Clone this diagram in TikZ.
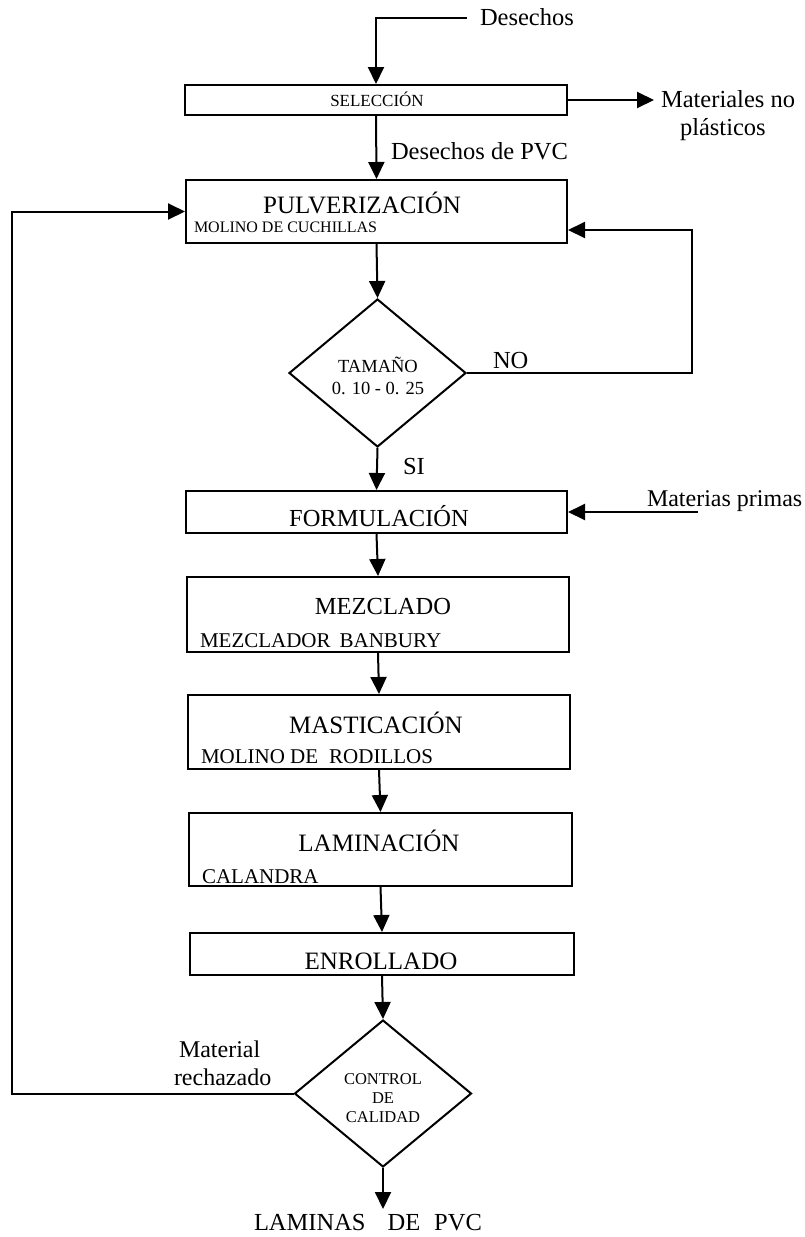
\documentclass[tikz,border=0pt]{standalone}
\usepackage{fontspec}
\setmainfont{Liberation Serif}
\usetikzlibrary{arrows.meta,shapes.geometric}

\begin{document}
\begin{tikzpicture}[x=1pt,y=-1pt,line width=2pt,
  arr/.style={-{Triangle[width=16pt,length=17pt]}},
  stage/.style={draw,rectangle,inner sep=0pt},
  decision/.style={draw,diamond,inner sep=0pt},
  fs/.style={font=\fontsize{#1}{#1}\selectfont},
  lbl/.style={inner sep=0pt,anchor=base west},
  ctr/.style={inner sep=0pt,anchor=base}]

\useasboundingbox[fill=white] (0,0) rectangle (805,1237);

% process boxes
\node[stage,minimum width=382pt,minimum height=30pt] (SEL) at (376,100) {};
\node[stage,minimum width=381pt,minimum height=63pt] (PUL) at (376.5,211.5) {};
\node[stage,minimum width=381pt,minimum height=42pt] (FOR) at (376.5,512) {};
\node[stage,minimum width=382pt,minimum height=75pt] (MEZ) at (378,614.5) {};
\node[stage,minimum width=382pt,minimum height=74pt] (MAS) at (379,732) {};
\node[stage,minimum width=383pt,minimum height=73pt] (LAM) at (380.5,849.5) {};
\node[stage,minimum width=384pt,minimum height=42pt] (ENR) at (382,954) {};

% decisions
\node[decision,minimum width=177pt,minimum height=148pt] (TAM) at (377.5,373) {};
\node[decision,minimum width=177pt,minimum height=147pt] (CTL) at (383,1093.5) {};

% texts
\node[lbl,fs=24.5] (tDes) at (479,25) {Desechos};
\node[ctr,fs=17] (tSel) at (377,106) {SELECCIÓN};
\node[lbl,fs=24.5] (tMat1) at (660,107) {Materiales no};
\node[lbl,fs=24.5] (tMat2) at (679,135) {plásticos};
\node[lbl,fs=24.5] (tPvc) at (390,159) {Desechos de PVC};
\node[ctr,fs=25] (tPul) at (362,213) {PULVERIZACIÓN};
\node[lbl,fs=16] (tPul2) at (193,232) {MOLINO DE CUCHILLAS};
\node[ctr,fs=18.5] (tTam1) at (378,372) {TAMAÑO};
\node[ctr,fs=18.5] (tTam2) at (378,394) {0. 10 - 0. 25};
\node[lbl,fs=24.5] (tNo) at (492,368) {NO};
\node[lbl,fs=24.5] (tSi) at (402,474) {SI};
\node[ctr,fs=24.5] (tFor) at (379,526) {FORMULACIÓN};
\node[lbl,fs=24] (tPrim) at (646,506) {Materias primas};
\node[ctr,fs=24.5] (tMez) at (383,614) {MEZCLADO};
\node[lbl,fs=21] (tMez2) at (199,647) {MEZCLADOR\hspace{9pt}BANBURY};
\node[ctr,fs=25] (tMas) at (376,733) {MASTICACIÓN};
\node[lbl,fs=21] (tMas2) at (200,763) {MOLINO DE\hspace{11pt}RODILLOS};
\node[ctr,fs=25] (tLam) at (379,851) {LAMINACIÓN};
\node[lbl,fs=21] (tLam2) at (201,883) {CALANDRA};
\node[ctr,fs=25] (tEnr) at (381,969) {ENROLLADO};
\node[ctr,fs=16.5] (tCtl1) at (383,1084.5) {CONTROL};
\node[ctr,fs=16.5] (tCtl2) at (383,1103.5) {DE};
\node[ctr,fs=16.5] (tCtl3) at (383,1122.5) {CALIDAD};
\node[lbl,fs=24] (tRej1) at (178,1057) {Material};
\node[lbl,fs=24] (tRej2) at (173,1085) {rechazado};
\node[lbl,fs=24.5] (tOut) at (253,1230) {LAMINAS\hspace{22pt}DE\hspace{14pt}PVC};

% free ends of connectors
\coordinate (desIn) at (467,18);
\coordinate (matOut) at (654,100);
\coordinate (noTurn) at (692,373);
\coordinate (primIn) at (698,512);
\coordinate (rejTurn) at (12,1093.5);
\coordinate (outEnd) at (383,1209);

% connectors
\draw[arr] (desIn) -| (SEL.north);
\draw[arr] (SEL.east) -- (matOut);
\draw[arr] (SEL.south) -- (PUL.north);
\draw[arr] (PUL.south) -- (TAM.north);
\draw[arr] (TAM.east) -- (noTurn) |- ([yshift=-18.5pt]PUL.east);
\draw[arr] (TAM.south) -- (FOR.north);
\draw[arr] (primIn) -- (FOR.east);
\draw[arr] (FOR.south) -- (MEZ.north);
\draw[arr] (MEZ.south) -- (MAS.north);
\draw[arr] (MAS.south) -- (LAM.north);
\draw[arr] (LAM.south) -- (ENR.north);
\draw[arr] (ENR.south) -- (CTL.north);
\draw[arr] (CTL.west) -- (rejTurn) |- (PUL.west);
\draw[arr] (CTL.south) -- (outEnd);

\end{tikzpicture}
\end{document}
